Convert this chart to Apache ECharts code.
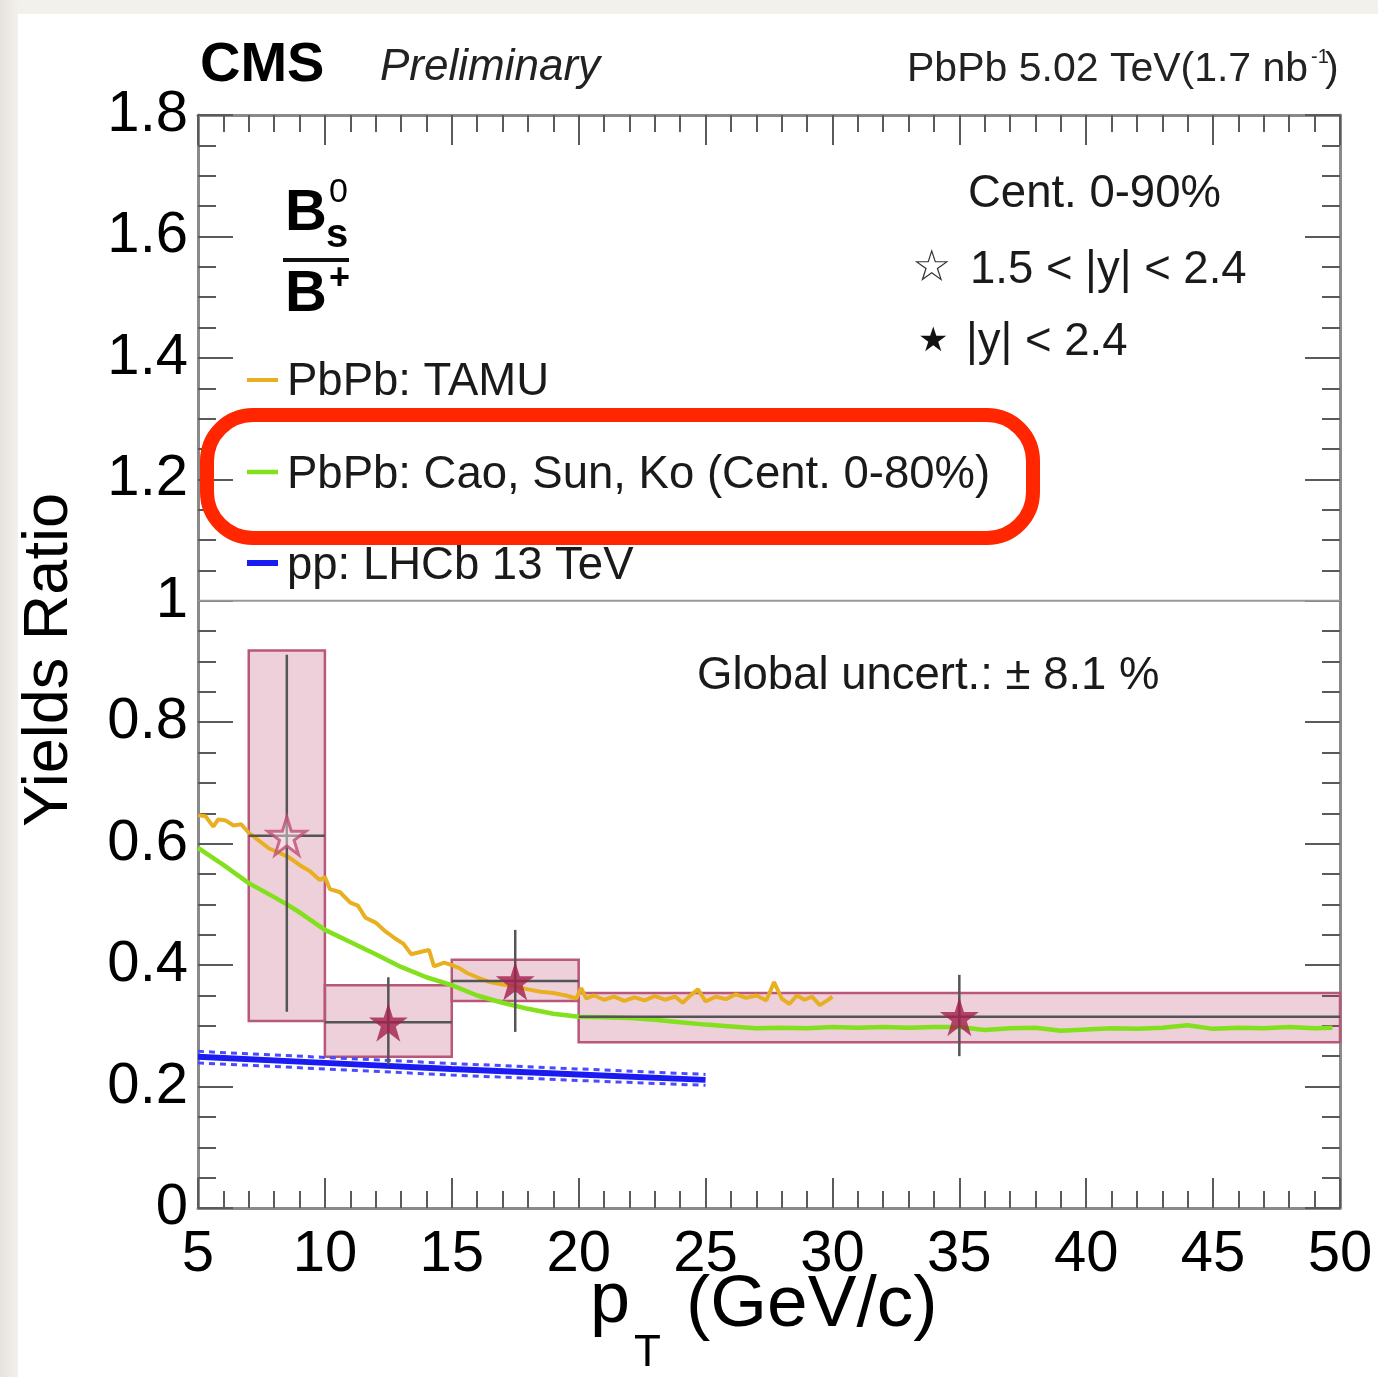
<!DOCTYPE html>
<html>
<head>
<meta charset="utf-8">
<script src="https://cdn.jsdelivr.net/npm/echarts@6/dist/echarts.min.js"></script>
<style>
  html, body { margin: 0; padding: 0; width: 1378px; height: 1377px; overflow: hidden; }
  body { background: linear-gradient(90deg, #e6e3de 0px, #f3f1ec 18px); }
  #panel { position: absolute; left: 18px; top: 14px; right: 0; bottom: 0; background: #fff; }
  #chart { position: absolute; left: 0; top: 0; width: 1378px; height: 1377px; }
</style>
</head>
<body>
<div id="panel"></div>
<div id="chart"></div>
<script>
// measured B0s / B+ yield ratio, per pT bin
const binLo = [7, 10, 15, 20]
const binHi = [10, 15, 20, 50]
const binCenter = [8.5, 12.5, 17.5, 35]
const ratio = [0.613, 0.306, 0.374, 0.315]
const statLo = [0.323, 0.236, 0.290, 0.250]
const statHi = [0.911, 0.380, 0.458, 0.384]
const systLo = [0.308, 0.249, 0.341, 0.273]
const systHi = [0.918, 0.367, 0.409, 0.354]
// first bin is 1.5 < |y| < 2.4 (open star), others |y| < 2.4
const openStar = [true, false, false, false]

// TAMU model (PbPb)
const tamuX = [5.0, 5.3, 5.6, 5.8, 6.1, 6.4, 6.7, 7.0, 7.4, 7.8, 8.2, 8.6, 9.0, 9.4, 9.8, 10.0,
  10.2, 10.6, 11.0, 11.3, 11.6, 12.0, 12.4, 12.8, 13.1, 13.4, 13.8, 14.1, 14.3, 14.7, 15.0, 15.3,
  15.6, 16.0, 16.5, 17.0, 17.5, 18.0, 18.5, 19.0, 19.5, 19.9, 20.1, 20.3, 20.6, 21.0, 21.4, 21.8,
  22.2, 22.6, 23.0, 23.4, 23.8, 24.1, 24.4, 24.7, 25.0, 25.4, 25.8, 26.2, 26.6, 27.0, 27.4, 27.7,
  28.0, 28.3, 28.6, 28.9, 29.2, 29.5, 29.8, 30.0]
const tamuY = [0.647, 0.645, 0.628, 0.640, 0.638, 0.630, 0.632, 0.618, 0.605, 0.592, 0.585, 0.577, 0.565, 0.555, 0.540, 0.545,
  0.525, 0.520, 0.503, 0.498, 0.478, 0.470, 0.455, 0.443, 0.435, 0.418, 0.422, 0.425, 0.398, 0.404, 0.400, 0.395,
  0.387, 0.380, 0.372, 0.368, 0.365, 0.360, 0.356, 0.354, 0.350, 0.345, 0.362, 0.345, 0.350, 0.343, 0.348, 0.341,
  0.347, 0.342, 0.349, 0.343, 0.348, 0.338, 0.350, 0.360, 0.340, 0.348, 0.344, 0.352, 0.346, 0.350, 0.342, 0.372,
  0.345, 0.336, 0.350, 0.343, 0.348, 0.334, 0.342, 0.348]

// Cao, Sun, Ko model (PbPb, 0-80%)
const caoX = [5, 6, 7, 8, 8.5, 9, 10, 11, 12, 13, 14, 15, 16, 17, 18, 19, 20, 21, 22, 23, 24, 25,
  26, 27, 28, 29, 30, 31, 32, 33, 34, 35, 36, 37, 38, 39, 40, 41, 42, 43, 44, 45, 46, 47, 48, 49, 49.7]
const caoY = [0.593, 0.565, 0.535, 0.512, 0.500, 0.487, 0.458, 0.438, 0.418, 0.397, 0.380, 0.367, 0.350, 0.338, 0.328, 0.320, 0.315, 0.314, 0.313, 0.310, 0.306, 0.302,
  0.299, 0.296, 0.297, 0.296, 0.298, 0.297, 0.298, 0.297, 0.298, 0.298, 0.293, 0.296, 0.297, 0.292, 0.294, 0.296, 0.295, 0.297, 0.301, 0.295, 0.297, 0.296, 0.298, 0.296, 0.297]

// LHCb pp 13 TeV with band
const lhcbX = [5, 10, 15, 20, 25]
const lhcbY = [0.249, 0.239, 0.229, 0.220, 0.211]
const lhcbUp = [0.258, 0.248, 0.238, 0.229, 0.220]
const lhcbDn = [0.239, 0.229, 0.219, 0.210, 0.202]

const yTicks = ['0', '0.2', '0.4', '0.6', '0.8', '1', '1.2', '1.4', '1.6', '1.8']

const FONT = '"Liberation Sans", Arial, Helvetica, sans-serif'
const STAR = 'path://M50,0 L61.2,34.5 L97.6,34.5 L68.2,55.9 L79.4,90.5 L50,69.1 L20.6,90.5 L31.8,55.9 L2.4,34.5 L38.8,34.5 Z'

const zip = (xs, ys) => xs.map((x, i) => [x, ys[i]])

const boxData = binLo.map((lo, i) => [lo, binHi[i], systLo[i], systHi[i]])
const errData = binCenter.map((c, i) => [c, ratio[i], binLo[i], binHi[i], statLo[i], statHi[i]])

const chart = echarts.init(document.getElementById('chart'), null, {renderer: 'canvas'})

const tickStyle = {color: '#5a5a5a', width: 2}
const frameLine = {show: true, onZero: false, lineStyle: {color: '#8a8a8a', width: 3}}

const xBase = {
  type: 'value', min: 5, max: 50, interval: 5,
  axisLine: frameLine,
  axisTick: {show: true, inside: true, length: 30, lineStyle: tickStyle},
  minorTick: {show: true, splitNumber: 5, length: 17, lineStyle: tickStyle},
  splitLine: {show: false}
}
const yBase = {
  type: 'value', min: 0, max: 1.8, interval: 0.2,
  axisLine: frameLine,
  axisTick: {show: true, inside: true, length: 35, lineStyle: tickStyle},
  minorTick: {show: true, splitNumber: 4, length: 18, lineStyle: tickStyle},
  splitLine: {show: false}
}

const txt = (x, y, text, size, extra) => ({
  type: 'text', x: x, y: y, z: 50,
  style: Object.assign({text: text, fill: '#111', font: size + 'px ' + FONT, verticalAlign: 'middle'}, extra || {})
})
const legendLine = (y, color, w) => ({
  type: 'line', z: 50, shape: {x1: 247, y1: y, x2: 278, y2: y}, style: {stroke: color, lineWidth: w}
})

chart.setOption({
  animation: false,
  grid: {left: 198, top: 115, width: 1142, height: 1093},
  xAxis: [
    Object.assign({}, xBase, {position: 'bottom',
      axisLabel: {fontSize: 58, color: '#000', margin: 18, fontFamily: FONT}}),
    Object.assign({}, xBase, {position: 'top', axisLabel: {show: false}})
  ],
  yAxis: [
    Object.assign({}, yBase, {position: 'left',
      axisLabel: {fontSize: 58, color: '#000', margin: 10, fontFamily: FONT,
        formatter: (v) => yTicks[Math.round(v / 0.2)]}}),
    Object.assign({}, yBase, {position: 'right', axisLabel: {show: false}})
  ],
  series: [
    {
      // systematic uncertainty boxes
      type: 'custom', z: 1, data: boxData,
      renderItem: (params, api) => {
        const p1 = api.coord([api.value(0), api.value(3)])
        const p2 = api.coord([api.value(1), api.value(2)])
        return {
          type: 'rect',
          shape: {x: p1[0], y: p1[1], width: p2[0] - p1[0], height: p2[1] - p1[1]},
          style: {fill: 'rgba(180,60,100,0.24)', stroke: '#b8577a', lineWidth: 2.5}
        }
      }
    },
    {
      // y = 1 reference
      type: 'line', z: 2, data: [[5, 1], [50, 1]], showSymbol: false, silent: true,
      lineStyle: {color: '#999', width: 2}
    },
    {
      name: 'pp: LHCb 13 TeV band up', type: 'line', z: 3, data: zip(lhcbX, lhcbUp), showSymbol: false,
      lineStyle: {color: '#4a4aff', width: 3, type: [6, 5]}
    },
    {
      name: 'pp: LHCb 13 TeV band down', type: 'line', z: 3, data: zip(lhcbX, lhcbDn), showSymbol: false,
      lineStyle: {color: '#4a4aff', width: 3, type: [6, 5]}
    },
    {
      name: 'pp: LHCb 13 TeV', type: 'line', z: 4, data: zip(lhcbX, lhcbY), showSymbol: false,
      lineStyle: {color: '#1a1af2', width: 6}
    },
    {
      name: 'PbPb: TAMU', type: 'line', z: 4, data: zip(tamuX, tamuY), showSymbol: false,
      lineStyle: {color: '#e8b021', width: 4}
    },
    {
      name: 'PbPb: Cao, Sun, Ko (Cent. 0-80%)', type: 'line', z: 4, data: zip(caoX, caoY), showSymbol: false,
      lineStyle: {color: '#82e01c', width: 4.5}
    },
    {
      // statistical error bars
      type: 'custom', z: 5, data: errData,
      renderItem: (params, api) => {
        const c = api.coord([api.value(0), api.value(1)])
        const l = api.coord([api.value(2), api.value(1)])
        const r = api.coord([api.value(3), api.value(1)])
        const lo = api.coord([api.value(0), api.value(4)])
        const hi = api.coord([api.value(0), api.value(5)])
        const st = {stroke: '#555', lineWidth: 2.5}
        return {
          type: 'group',
          children: [
            {type: 'line', shape: {x1: l[0], y1: c[1], x2: r[0], y2: c[1]}, style: st},
            {type: 'line', shape: {x1: c[0], y1: lo[1], x2: c[0], y2: hi[1]}, style: st}
          ]
        }
      }
    },
    {
      type: 'scatter', z: 6, symbol: STAR, symbolSize: 38,
      data: zip(binCenter, ratio).filter((d, i) => openStar[i]),
      itemStyle: {color: 'rgba(255,240,244,0.55)', borderColor: '#c14d74', borderWidth: 3}
    },
    {
      type: 'scatter', z: 6, symbol: STAR, symbolSize: 39,
      data: zip(binCenter, ratio).filter((d, i) => !openStar[i]),
      itemStyle: {color: '#a3204c'}
    }
  ],
  graphic: [
    txt(200, 66, 'CMS', 56, {font: 'bold 56px ' + FONT, fill: '#000'}),
    txt(380, 68, 'Preliminary', 44, {font: 'italic 44px ' + FONT, fill: '#222'}),
    txt(907, 70, 'PbPb 5.02 TeV(1.7 nb', 41, {fill: '#222'}),
    txt(1311, 57, '-1', 20, {fill: '#222'}),
    txt(1325, 70, ')', 41, {fill: '#222'}),

    // axis titles
    {type: 'text', x: 50, y: 660, rotation: Math.PI / 2, z: 50,
      style: {text: 'Yields Ratio', fill: '#000', font: '63px ' + FONT, align: 'center', verticalAlign: 'middle'}},
    txt(590, 1302, 'p', 72, {fill: '#000'}),
    txt(634, 1354, 'T', 44, {fill: '#000'}),
    txt(686, 1306, '(GeV/c)', 73, {fill: '#000'}),

    // B0s / B+
    txt(285, 214, 'B', 58, {font: 'bold 58px ' + FONT, fill: '#000'}),
    txt(329, 193, '0', 34, {fill: '#000'}),
    txt(326, 236, 's', 40, {font: 'bold 40px ' + FONT, fill: '#000'}),
    {type: 'rect', z: 50, shape: {x: 283, y: 258, width: 66, height: 4}, style: {fill: '#111'}},
    txt(285, 295, 'B', 58, {font: 'bold 58px ' + FONT, fill: '#000'}),
    txt(329, 279, '+', 36, {font: 'bold 36px ' + FONT, fill: '#000'}),

    // legend
    legendLine(380, '#e8b021', 4),
    txt(287, 382, 'PbPb: TAMU', 45.5, {fill: '#1a1a1a'}),
    legendLine(472, '#82e01c', 4.5),
    txt(287, 475, 'PbPb: Cao, Sun, Ko (Cent. 0-80%)', 45.5, {fill: '#1a1a1a'}),
    legendLine(563, '#1a1af2', 6),
    txt(287, 566, 'pp: LHCb 13 TeV', 45.5, {fill: '#1a1a1a'}),

    {type: 'rect', z: 49, shape: {x: 207, y: 415, width: 826, height: 123, r: 46},
      style: {fill: 'none', stroke: '#ff2600', lineWidth: 14}},

    // right block
    txt(968, 194, 'Cent. 0-90%', 45.5, {fill: '#1a1a1a'}),
    txt(912, 270, '\u2606', 44, {font: '44px "DejaVu Sans"', fill: '#333'}),
    txt(970, 270, '1.5 < |y| < 2.4', 45.5, {fill: '#1a1a1a'}),
    txt(918, 342, '\u2605', 34, {font: '34px "DejaVu Sans"', fill: '#111'}),
    txt(966, 342, '|y| < 2.4', 45.5, {fill: '#1a1a1a'}),

    txt(697, 676, 'Global uncert.: \u00b1 8.1 %', 45.5, {fill: '#1a1a1a'})
  ]
})
</script>
</body>
</html>
